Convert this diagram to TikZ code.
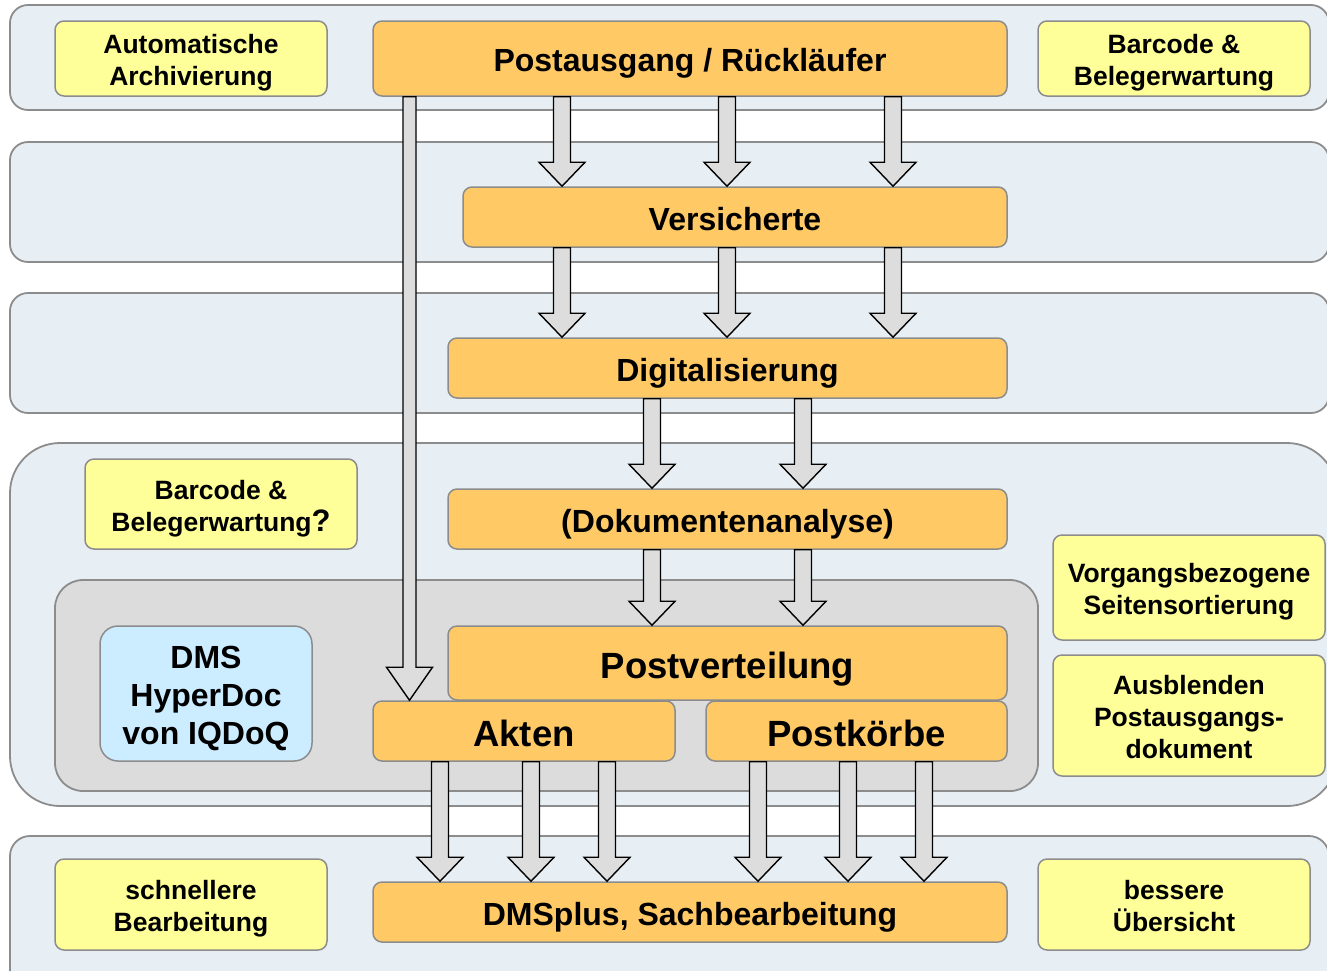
\documentclass[tikz,border=0pt]{standalone}
\usepackage{fontspec}
\setmainfont{Liberation Sans}
\usetikzlibrary{calc}
\definecolor{lanefill}{HTML}{E8EFF4}
\definecolor{linegray}{HTML}{8C8C8C}
\definecolor{orangebox}{HTML}{FFC966}
\definecolor{yellowbox}{HTML}{FFFF99}
\definecolor{bluebox}{HTML}{CCECFF}
\definecolor{innergray}{HTML}{DCDCDC}
\definecolor{arrowgray}{HTML}{DDDDDD}
\newcommand{\topstrut}{\rule[-0.212em]{0pt}{1.26em}}
\newcommand{\linestrut}{\rule[-0.212em]{0pt}{1.117em}}
\newcommand{\boxtext}[1]{\topstrut#1\linestrut}
% block arrow: x, from node, to node, shaft half width, head half width, head length
\newcommand{\blockarrow}[6]{%
  \draw[blockarr] let \p1=(#2.south), \p2=(#3.north) in
    (#1pt-#4pt,\y1) -- (#1pt-#4pt,\y2+#6pt) -- (#1pt-#5pt,\y2+#6pt) -- (#1pt,\y2)
    -- (#1pt+#5pt,\y2+#6pt) -- (#1pt+#4pt,\y2+#6pt) -- (#1pt+#4pt,\y1) -- cycle;}
\begin{document}
\begin{tikzpicture}[x=1pt,y=-1pt,
  lane/.style={draw=linegray,fill=lanefill,line width=1.8pt},
  box/.style={draw=linegray,line width=1.5pt,rounded corners=9pt,inner sep=0pt,
    align=center,font=\bfseries},
  work/.style={box,fill=orangebox,font=\fontsize{32}{37}\selectfont\bfseries},
  big/.style={work,font=\fontsize{36.5}{42}\selectfont\bfseries},
  note/.style={box,fill=yellowbox,minimum width=272pt,
    font=\fontsize{26.5}{32}\selectfont\bfseries},
  blockarr/.style={draw=black,fill=arrowgray,line width=1.4pt,line join=miter}]
\useasboundingbox (0,0) rectangle (1327,970);
\clip (0,0) rectangle (1327,970);
% lanes
\draw[lane,rounded corners=18pt] (10,5) rectangle (1329,110);
\draw[lane,rounded corners=18pt] (10,142) rectangle (1329,262);
\draw[lane,rounded corners=18pt] (10,293) rectangle (1329,413);
\draw[lane,rounded corners=50pt] (10,443) rectangle (1337,806);
\draw[lane,rounded corners=20pt] (10,836) rectangle (1329,1000);
\draw[draw=linegray,fill=innergray,line width=1.8pt,rounded corners=28pt] (55,580) rectangle (1038,791);

% process steps
\node[work,minimum width=634pt,minimum height=75pt] (post) at (690,58.5) {\boxtext{Postausgang / Rückläufer}};
\node[work,minimum width=544pt,minimum height=60pt] (vers) at (735,217) {\boxtext{Versicherte}};
\node[work,minimum width=559pt,minimum height=60pt] (digi) at (727.5,368) {\boxtext{Digitalisierung}};
\node[work,minimum width=559pt,minimum height=60pt] (doku) at (727.5,519) {\boxtext{(Dokumentenanalyse)}};
\node[big,minimum width=559pt,minimum height=74pt] (verteil) at (727.5,663) {\boxtext{Postverteilung}};
\node[big,minimum width=302pt,minimum height=60pt] (akten) at (524,731) {\boxtext{Akten}};
\node[big,minimum width=301pt,minimum height=60pt] (koerbe) at (856.5,731) {\boxtext{Postkörbe}};
\node[work,minimum width=634pt,minimum height=60pt] (sachb) at (690,912) {\boxtext{DMSplus, Sachbearbeitung}};

% notes
\node[note,minimum height=75pt] (archiv) at (191,58.5) {\boxtext{Automatische\\Archivierung}};
\node[note,minimum height=75pt] (beleg) at (1174,58.5) {\boxtext{Barcode \&\\Belegerwartung}};
\node[note,minimum height=90pt] (belegq) at (221,504) {\boxtext{Barcode \&\\Belegerwartung{\fontsize{31}{32}\selectfont ?}}};
\node[note,minimum height=105pt] (sortier) at (1189,587.5) {\boxtext{Vorgangsbezogene\\Seitensortierung}};
\node[note,minimum height=121pt] (ausbl) at (1189,715.5) {\boxtext{Ausblenden\\Postausgangs-\\dokument}};
\node[note,minimum height=91pt] (schnell) at (191,904.5) {\boxtext{schnellere\\Bearbeitung}};
\node[note,minimum height=91pt] (besser) at (1174,904.5) {\boxtext{bessere\\Übersicht}};
\node[box,fill=bluebox,minimum width=212pt,minimum height=135pt,rounded corners=18pt,
  font=\fontsize{32}{38}\selectfont\bfseries] (dms) at (206,693.5) {\boxtext{DMS\\HyperDoc\\von IQDoQ}};

% arrows
\foreach \ax in {562,727,893} {
  \blockarrow{\ax}{post}{vers}{8.5}{23}{24}
  \blockarrow{\ax}{vers}{digi}{8.5}{23}{24}
}
\foreach \ax in {652,803} {
  \blockarrow{\ax}{digi}{doku}{8.5}{23}{24}
  \blockarrow{\ax}{doku}{verteil}{8.5}{23}{24}
}
\blockarrow{409.5}{post}{akten}{6.5}{23}{33}
\foreach \ax in {440,531,607} {\blockarrow{\ax}{akten}{sachb}{8.5}{23}{24}}
\foreach \ax in {758,848,924} {\blockarrow{\ax}{koerbe}{sachb}{8.5}{23}{24}}
\end{tikzpicture}
\end{document}
